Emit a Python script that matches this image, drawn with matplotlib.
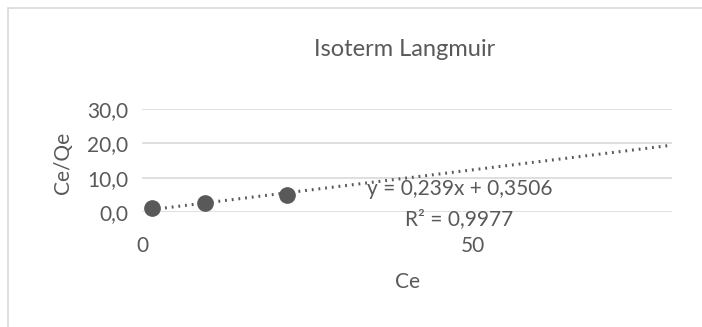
import matplotlib
matplotlib.use("Agg")
import matplotlib.pyplot as plt
from matplotlib.patches import Rectangle

# data
ce = [1.46, 9.5, 21.9]
ce_qe = [1.1, 2.7, 5.0]
slope = 0.239
intercept = 0.3506
r2 = 0.9977
x_ticks = [0, 50]
y_ticks = [0, 10, 20, 30]

grey = "#595959"
plt.rcParams['font.family'] = ['Lato', 'DejaVu Sans']

fig = plt.figure(figsize=(7.02, 3.27), dpi=100)
# chart area border
fig.patches.append(Rectangle((8/702, -0.2), 1.0, 1.2 - 8/327, transform=fig.transFigure,
                             fill=False, edgecolor="#d9d9d9", linewidth=1.2))

ax = fig.add_axes([142/702, 1 - 212/327, 530/702, 103/327])
ax.set_xlim(0, 80)
ax.set_ylim(0, 30)
ax.set_xticks(x_ticks)
ax.set_yticks(y_ticks)
ax.set_yticklabels([f"{v:.1f}".replace(".", ",") for v in y_ticks])
ax.grid(axis="y", color="#d9d9d9", linewidth=1.2)
ax.set_axisbelow(True)
for s in ax.spines.values():
    s.set_visible(False)
ax.tick_params(length=0, colors=grey, labelsize=15)
ax.tick_params(axis="x", pad=17)
ax.tick_params(axis="y", pad=10)

# trendline
xt = [ce[0], 80]
yt = [slope * v + intercept for v in xt]
ax.plot(xt, yt, linestyle=(0, (0.6, 1.6)), color=grey, linewidth=2.2, zorder=2)
ax.plot(ce, ce_qe, "o", color=grey, markersize=11, zorder=3, clip_on=False)

ax.text(460/702, 1 - 189/327, f"y = {slope:.3f}x + {intercept:.4f}".replace(".", ","),
        transform=fig.transFigure, ha="center", va="center", color=grey, fontsize=15)
ax.text(459/702, 1 - 219/327, f"R² = {r2:.4f}".replace(".", ","),
        transform=fig.transFigure, ha="center", va="center", color=grey, fontsize=15)

fig.text(407/702, 1 - 282/327, "Ce", ha="center", va="center", color=grey, fontsize=15)
fig.text(63/702, 1 - 163/327, "Ce/Qe", ha="center", va="center", rotation=90,
         color=grey, fontsize=15)
fig.text(405/702, 1 - 49/327, "Isoterm Langmuir", ha="center", va="center",
         color=grey, fontsize=17)

fig.savefig("out.png", dpi=100)
